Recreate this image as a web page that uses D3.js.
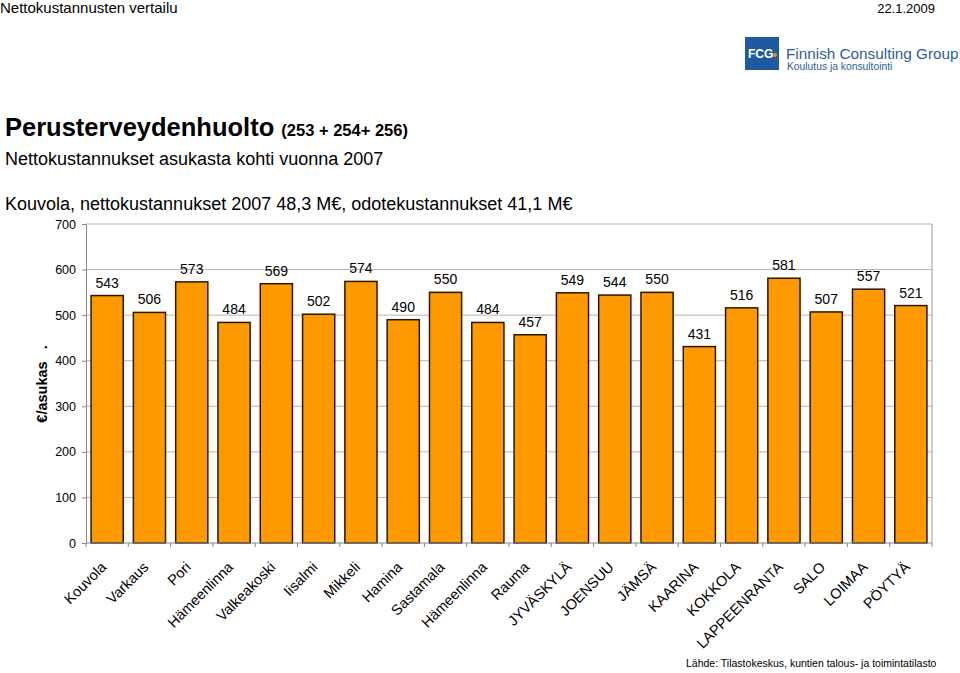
<!DOCTYPE html>
<html><head><meta charset="utf-8">
<script src="https://cdn.jsdelivr.net/npm/d3@7"></script>
<style>body{margin:0;background:#fff;}svg{display:block;font-family:Arial,"Liberation Sans",sans-serif;}</style>
</head><body><svg id="c" width="960" height="673"></svg>
<script>
const categories = ["Kouvola","Varkaus","Pori","Hämeenlinna","Valkeakoski","Iisalmi","Mikkeli","Hamina","Sastamala","Hämeenlinna ","Rauma","JYVÄSKYLÄ","JOENSUU","JÄMSÄ","KAARINA","KOKKOLA","LAPPEENRANTA","SALO","LOIMAA","PÖYTYÄ"];
const values = [543,506,573,484,569,502,574,490,550,484,457,549,544,550,431,516,581,507,557,521];
const yTicks = [0,100,200,300,400,500,600,700];

const svg = d3.select("#c");
const L = 86, R = 932, T = 224, B = 543;
const x = d3.scaleBand().domain(categories).range([L, R]).paddingInner(0.24).paddingOuter(0.12);
const y = d3.scaleLinear().domain([0, 700]).range([B, T]);

// header
svg.append("text").attr("x", 0).attr("y", 13).attr("font-size", 15).text("Nettokustannusten vertailu");
svg.append("text").attr("x", 935).attr("y", 13).attr("font-size", 13).attr("text-anchor", "end").text("22.1.2009");

// logo
svg.append("rect").attr("x", 745).attr("y", 37).attr("width", 34).attr("height", 33).attr("fill", "#1f5aa0");
svg.append("text").attr("x", 748).attr("y", 58).attr("font-size", 12).attr("fill", "#fff").attr("font-weight", "bold").text("FCG");
svg.append("circle").attr("cx", 775).attr("cy", 55).attr("r", 2).attr("fill", "#f39200");
svg.append("text").attr("x", 786).attr("y", 59).attr("font-size", 15.3).attr("fill", "#2f5d9a").text("Finnish Consulting Group");
svg.append("text").attr("x", 787).attr("y", 70).attr("font-size", 10.3).attr("fill", "#2f5d9a").text("Koulutus ja konsultointi");

// titles
const t1 = svg.append("text").attr("x", 5).attr("y", 136).attr("font-weight", "bold");
t1.append("tspan").attr("font-size", 25.5).text("Perusterveydenhuolto ");
t1.append("tspan").attr("font-size", 16.5).text("(253 + 254+ 256)");
svg.append("text").attr("x", 5).attr("y", 165).attr("font-size", 18).text("Nettokustannukset asukasta kohti vuonna 2007");
svg.append("text").attr("x", 5).attr("y", 210).attr("font-size", 18).text("Kouvola, nettokustannukset 2007 48,3 M€, odotekustannukset 41,1 M€");

// grid
svg.append("g").selectAll("line").data(yTicks.filter(d => d > 0)).join("line")
  .attr("x1", L).attr("x2", R).attr("y1", d => y(d)).attr("y2", d => y(d))
  .attr("stroke", "#b5b5b5").attr("stroke-width", 1);
svg.append("line").attr("x1", R).attr("x2", R).attr("y1", T).attr("y2", B).attr("stroke", "#9a9a9a");

// y axis
const ya = svg.append("g").attr("transform", `translate(${L},0)`)
  .call(d3.axisLeft(y).tickValues(yTicks).tickSize(4).tickPadding(6));
ya.select(".domain").attr("stroke", "#888");
ya.selectAll(".tick line").attr("stroke", "#888");
ya.selectAll("text").attr("font-size", 12.5).attr("font-family", "Arial,'Liberation Sans',sans-serif").attr("fill", "#000");

// bars
svg.append("g").selectAll("rect").data(values).join("rect")
  .attr("x", (d, i) => x(categories[i])).attr("width", x.bandwidth())
  .attr("y", d => y(d)).attr("height", d => B - y(d))
  .attr("fill", "#ff9900").attr("stroke", "#2a1800").attr("stroke-width", 1.5);

// x axis
const step = x.step();
svg.append("line").attr("x1", L).attr("x2", R).attr("y1", B).attr("y2", B).attr("stroke", "#888");
svg.append("g").selectAll("line").data(d3.range(categories.length + 1)).join("line")
  .attr("x1", i => L + i * step).attr("x2", i => L + i * step).attr("y1", B).attr("y2", B + 4).attr("stroke", "#888");

// value labels
svg.append("g").selectAll("text").data(values).join("text")
  .attr("x", (d, i) => x(categories[i]) + x.bandwidth() / 2).attr("y", d => y(d) - 8)
  .attr("text-anchor", "middle").attr("font-size", 14).text(d => d);

// category labels
svg.append("g").selectAll("text").data(categories).join("text")
  .attr("transform", d => `translate(${x(d) + x.bandwidth() / 2},${B + 25}) rotate(-45)`)
  .attr("text-anchor", "end").attr("font-size", 14.5).text(d => d.trim());

// y label
svg.append("text").attr("transform", "translate(47,384) rotate(-90)").attr("text-anchor", "middle")
  .attr("font-size", 14.5).attr("font-weight", "bold").attr("xml:space", "preserve").text("€/asukas   .");

// footer
svg.append("text").attr("x", 686).attr("y", 667).attr("font-size", 10.5).text("Lähde: Tilastokeskus, kuntien talous- ja toimintatilasto");
</script></body></html>
